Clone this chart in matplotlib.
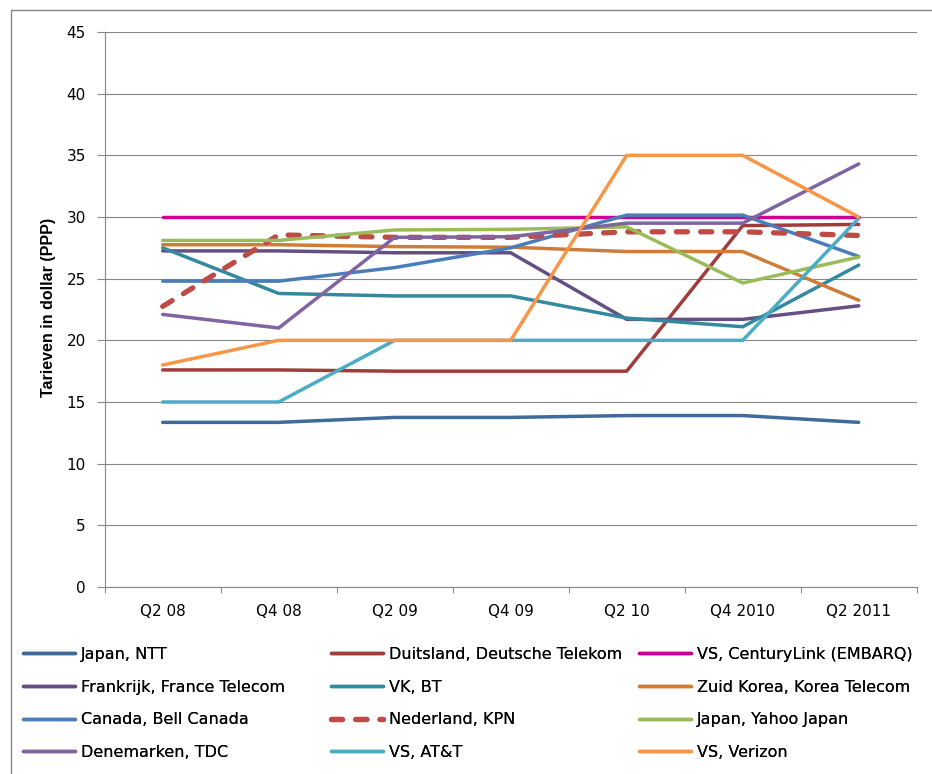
import matplotlib
matplotlib.use("Agg")
import matplotlib.pyplot as plt
from matplotlib.lines import Line2D

# Quarters on the category axis
quarters = ["Q2 08", "Q4 08", "Q2 09", "Q4 09", "Q2 10", "Q4 2010", "Q2 2011"]

# Monthly broadband tariffs in dollar (PPP) per provider
japan_ntt = [13.35, 13.35, 13.75, 13.75, 13.9, 13.9, 13.35]
duitsland_dt = [17.6, 17.6, 17.5, 17.5, 17.5, 29.3, 29.4]
vs_centurylink = [30, 30, 30, 30, 30, 30, 30]
frankrijk_ft = [27.25, 27.25, 27.1, 27.1, 21.7, 21.7, 22.8]
vk_bt = [27.5, 23.8, 23.6, 23.6, 21.8, 21.1, 26.1]
zuidkorea_kt = [27.75, 27.75, 27.6, 27.55, 27.2, 27.2, 23.25]
canada_bell = [24.8, 24.8, 25.9, 27.5, 30.15, 30.15, 26.8]
nederland_kpn = [22.75, 28.55, 28.35, 28.35, 28.8, 28.8, 28.5]
japan_yahoo = [28.1, 28.1, 28.95, 29.0, 29.2, 24.65, 26.75]
denemarken_tdc = [22.1, 21.0, 28.35, 28.4, 29.5, 29.5, 34.3]
vs_att = [15, 15, 20, 20, 20, 20, 29.9]
vs_verizon = [18, 20, 20, 20, 35, 35, 30]

series_names = [
    "Japan, NTT", "Duitsland, Deutsche Telekom", "VS, CenturyLink (EMBARQ)",
    "Frankrijk, France Telecom", "VK, BT", "Zuid Korea, Korea Telecom",
    "Canada, Bell Canada", "Nederland, KPN", "Japan, Yahoo Japan",
    "Denemarken, TDC", "VS, AT&T", "VS, Verizon",
]
series_values = [
    japan_ntt, duitsland_dt, vs_centurylink,
    frankrijk_ft, vk_bt, zuidkorea_kt,
    canada_bell, nederland_kpn, japan_yahoo,
    denemarken_tdc, vs_att, vs_verizon,
]
series_colors = [
    "#3F6A9C", "#A03C3A", "#CC0099",
    "#644F84", "#34899E", "#CF7D36",
    "#4A7EBB", "#BE4B48", "#9BBB59",
    "#8064A2", "#4BACC6", "#F79646",
]

W, H = 932, 774
fig = plt.figure(figsize=(W / 100, H / 100), dpi=100)
fig.patch.set_facecolor("white")


def fx(x):
    return x / W


def fy(y):
    return 1 - y / H


# Chart area border (left and top edges)
fig.add_artist(Line2D([fx(11), fx(11), fx(W)], [fy(H), fy(10), fy(10)],
                      transform=fig.transFigure, color="#868686", lw=1.0))

ax_left, ax_right, ax_top, ax_bottom = 104.7, 916.7, 32, 587
ax = fig.add_axes([fx(ax_left), fy(ax_bottom),
                   fx(ax_right - ax_left), (ax_bottom - ax_top) / H])

xs = list(range(len(quarters)))
handles = []
for name, vals, col in zip(series_names, series_values, series_colors):
    if name == "Nederland, KPN":
        ln, = ax.plot(xs, vals, color=col, lw=3.8, label=name,
                      dashes=(2.1, 2.5), dash_capstyle="round",
                      solid_capstyle="round")
    else:
        ln, = ax.plot(xs, vals, color=col, lw=2.5, label=name,
                      solid_capstyle="round", solid_joinstyle="round")
    handles.append(ln)

ax.set_xlim(-0.5, len(quarters) - 0.5)
ax.set_ylim(0, 45)
ax.set_yticks(range(0, 46, 5))
ax.yaxis.grid(True, color="#878787", lw=0.8)
ax.set_axisbelow(True)

# Category boundaries carry the tick marks; labels sit at category centres
ax.set_xticks([i - 0.5 for i in range(len(quarters) + 1)])
ax.set_xticklabels([])
ax.set_xticks(xs, minor=True)
ax.set_xticklabels(quarters, minor=True)
ax.tick_params(axis="x", which="major", direction="out", length=4.3,
               color="#878787", width=0.8)
ax.tick_params(axis="x", which="minor", length=0, pad=12, labelsize=11)
ax.tick_params(axis="y", direction="out", length=5.5, color="#878787",
               width=0.8, pad=8, labelsize=11)

for side in ("top", "right"):
    ax.spines[side].set_visible(False)
for side in ("left", "bottom"):
    ax.spines[side].set_color("#878787")
    ax.spines[side].set_linewidth(0.8)

fig.text(fx(49), fy(307), "Tarieven in dollar (PPP)", rotation=90,
         ha="center", va="center", fontsize=11.5, fontweight="bold",
         family=["Liberation Sans", "DejaVu Sans"])

# Legend: three columns of four entries, row by row
col_x = [23, 331, 639]
for c in range(3):
    hs = handles[c::3]
    leg = fig.legend(handles=hs, labels=[h.get_label() for h in hs],
                     loc="upper left", bbox_to_anchor=(fx(col_x[c]), fy(647)),
                     bbox_transform=fig.transFigure, frameon=False,
                     fontsize=11.5, handlelength=3.25, handletextpad=0.38,
                     labelspacing=1.1, borderpad=0, borderaxespad=0)
    fig.add_artist(leg)

fig.savefig("out.png", dpi=100)
